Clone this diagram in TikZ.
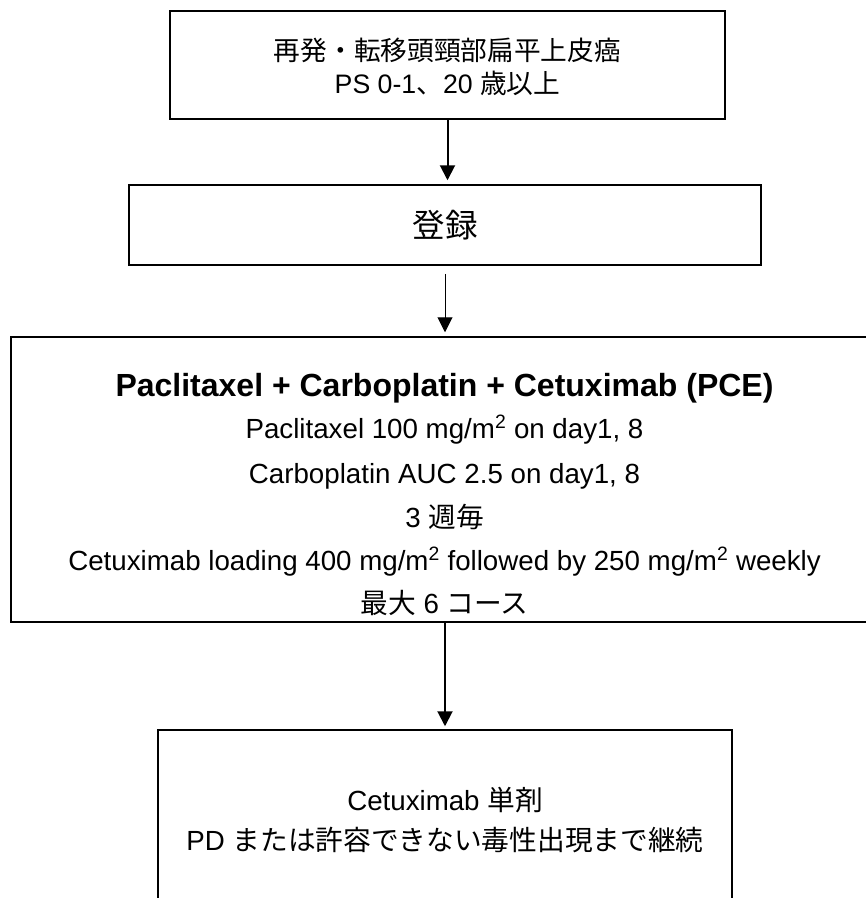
\documentclass[tikz,border=0pt]{standalone}
\usepackage{fontspec}
\setmainfont{Liberation Sans}
\newfontfamily\jp{Noto Sans CJK JP}
\usetikzlibrary{arrows.meta}
\begin{document}
\begin{tikzpicture}[x=1pt,y=1pt,
  boxline/.style={draw=black, line width=1.5pt, inner sep=0pt},
  txt/.style={anchor=base, inner sep=0pt, font=\fontsize{27.7}{33}\selectfont},
  toptxt/.style={anchor=base, inner sep=0pt, font=\fontsize{26.7}{32}\selectfont},
  arr/.style={-{Triangle[length=15pt,width=15pt]}, line width=2pt},
  thinarr/.style={-{Triangle[length=15pt,width=15pt]}, line width=1pt}]
\clip (0,0) rectangle (866,-898);
\fill[white] (0,0) rectangle (866,-898);

% top box
\node[boxline, minimum width=555pt, minimum height=108pt] (top) at (447.5,-65) {};
\node[toptxt] (t1) at (447.5,-60) {\jp 再発・転移頭頸部扁平上皮癌};
\node[toptxt] (t2) at (447.5,-93) {PS 0-1{\jp 、}20 {\jp 歳以上}};

% registration box
\node[boxline, minimum width=632pt, minimum height=80pt,
      font=\jp\fontsize{32.5}{38}\selectfont] (reg) at (445,-225) {登録};

% treatment box
\node[boxline, minimum width=868pt, minimum height=285pt] (pce) at (445,-479.5) {};
\node[txt, font=\bfseries\fontsize{32}{38}\selectfont] (p1) at (444.5,-396) {Paclitaxel + Carboplatin + Cetuximab (PCE)};
\node[txt] (p2) at (444.5,-438) {Paclitaxel 100 mg/m\textsuperscript{2} on day1, 8};
\node[txt] (p3) at (444.5,-483) {Carboplatin AUC 2.5 on day1, 8};
\node[txt] (p4) at (444.5,-527) {3 {\jp 週毎}};
\node[txt] (p5) at (444.5,-570) {Cetuximab loading 400 mg/m\textsuperscript{2} followed by 250 mg/m\textsuperscript{2} weekly};
\node[txt] (p6) at (444.5,-613) {{\jp 最大} 6 {\jp コース}};

% maintenance box
\node[boxline, minimum width=574pt, minimum height=230pt] (mono) at (445,-845) {};
\node[txt] (m1) at (445,-810) {Cetuximab {\jp 単剤}};
\node[txt] (m2) at (445,-850) {PD {\jp または許容できない毒性出現まで継続}};

% arrows
\draw[arr, shorten >=4pt] (top.south) -- (top.south |- reg.north);
\draw[thinarr, shorten <=8pt, shorten >=4pt] (reg.south) -- (pce.north);
\draw[arr, shorten >=3pt] (pce.south) -- (mono.north);
\end{tikzpicture}
\end{document}
